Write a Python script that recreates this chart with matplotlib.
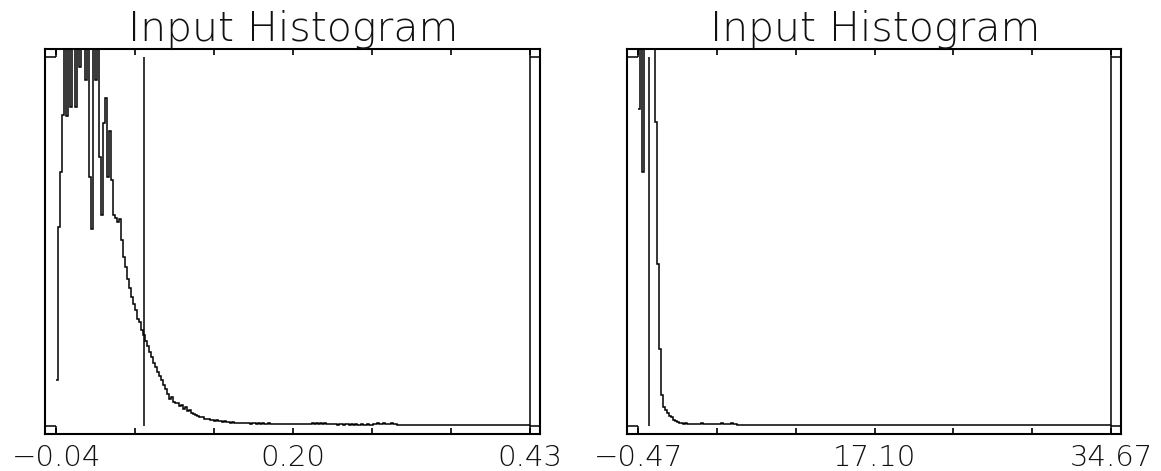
import numpy as np
import matplotlib
matplotlib.use("Agg")
import matplotlib.pyplot as plt
from matplotlib.ticker import FixedLocator, FixedFormatter

# ---------------------------------------------------------------- data
# Left panel: histogram of the input values (normalised bin heights,
# 1.0 = top of the plotted range; taller bins run off the top).
left_range = (-0.04, 0.43)
left_tick_labels = ["\u22120.04", "0.20", "0.43"]
left_marker = 0.047
left_counts = [
    0.125, 0.54, 0.69, 0.845, 1.15, 0.84, 1.2, 0.865, 1.1, 0.865,
    1.25, 0.975, 1.3, 1.2, 0.94, 1.3, 0.674, 0.533, 1.25, 0.94,
    1.2, 0.73, 0.573, 0.823, 0.89, 0.674, 0.80, 0.668, 0.573, 0.565,
    0.554, 0.56, 0.505, 0.457, 0.43, 0.397, 0.375, 0.35, 0.33, 0.315,
    0.29, 0.28, 0.26, 0.245, 0.23, 0.215, 0.20, 0.185, 0.17, 0.16,
    0.145, 0.135, 0.125, 0.11, 0.10, 0.085, 0.072, 0.078, 0.065, 0.060,
    0.062, 0.054, 0.056, 0.045, 0.049, 0.040, 0.043, 0.034, 0.031, 0.028,
    0.025, 0.022, 0.024, 0.019, 0.017, 0.019, 0.014, 0.016, 0.013, 0.014,
    0.011, 0.012, 0.010, 0.011, 0.009, 0.010, 0.008, 0.009, 0.008, 0.007,
    0.008, 0.007, 0.006, 0.008, 0.006, 0.007, 0.005, 0.007, 0.006, 0.005,
    0.006, 0.005, 0.006, 0.004, 0.005, 0.006, 0.004, 0.005, 0.004, 0.005,
    0.004, 0.004, 0.005, 0.003, 0.004, 0.004, 0.003, 0.004, 0.003, 0.004,
    0.003, 0.003, 0.004, 0.003, 0.003, 0.003, 0.003, 0.006, 0.004, 0.006,
    0.005, 0.007, 0.004, 0.006, 0.005, 0.004, 0.003, 0.003, 0.003, 0.002,
    0.003, 0.003, 0.002, 0.003, 0.003, 0.002, 0.003, 0.002, 0.003, 0.002,
    0.002, 0.003, 0.002, 0.002, 0.003, 0.002, 0.002, 0.005, 0.004, 0.006,
    0.004, 0.005, 0.006, 0.004, 0.005, 0.004, 0.006, 0.004, 0.003, 0.002,
    0.002, 0.002, 0.002, 0.002, 0.002, 0.002, 0.002, 0.002, 0.002, 0.002,
    0.002, 0.002, 0.002, 0.002, 0.002, 0.002, 0.002, 0.002, 0.002, 0.002,
    0.002, 0.002, 0.002, 0.002, 0.002, 0.002, 0.002, 0.002, 0.002, 0.002,
    0.002, 0.002, 0.002, 0.002, 0.002, 0.002, 0.002, 0.002, 0.002, 0.002,
    0.002, 0.002, 0.002, 0.002, 0.002, 0.002, 0.002, 0.002, 0.002, 0.002,
    0.002, 0.002, 0.002, 0.002, 0.002, 0.002, 0.002, 0.002, 0.002, 0.002,
    0.002, 0.002, 0.002, 0.002, 0.002,
]

# Right panel
right_range = (-0.47, 34.67)
right_tick_labels = ["\u22120.47", "17.10", "34.67"]
right_marker = 0.345
right_counts = [
    0.86, 1.6, 0.69, 5.0, 8.0, 7.0, 5.0, 3.0, 0.826, 0.44,
    0.207, 0.084, 0.049, 0.043, 0.035, 0.027, 0.022, 0.016, 0.013, 0.010,
    0.008, 0.007, 0.005, 0.006, 0.004, 0.005, 0.004, 0.003, 0.003, 0.004,
    0.003, 0.006, 0.003, 0.003, 0.003, 0.004, 0.003, 0.003, 0.003, 0.003,
    0.004, 0.006, 0.003, 0.003, 0.003, 0.004, 0.006, 0.003, 0.003, 0.002,
    0.002, 0.002, 0.002, 0.002, 0.002, 0.002, 0.002, 0.002, 0.002, 0.002,
    0.002, 0.002, 0.002, 0.002, 0.002, 0.002, 0.002, 0.002, 0.002, 0.002,
    0.002, 0.002, 0.002, 0.002, 0.002, 0.002, 0.002, 0.002, 0.002, 0.002,
    0.002, 0.002, 0.002, 0.002, 0.002, 0.002, 0.002, 0.002, 0.002, 0.002,
    0.002, 0.002, 0.002, 0.002, 0.002, 0.002, 0.002, 0.002, 0.002, 0.002,
    0.002, 0.002, 0.002, 0.002, 0.002, 0.002, 0.002, 0.002, 0.002, 0.002,
    0.002, 0.002, 0.002, 0.002, 0.002, 0.002, 0.002, 0.002, 0.002, 0.002,
    0.002, 0.002, 0.002, 0.002, 0.002, 0.002, 0.002, 0.002, 0.002, 0.002,
    0.002, 0.002, 0.002, 0.002, 0.002, 0.002, 0.002, 0.002, 0.002, 0.002,
    0.002, 0.002, 0.002, 0.002, 0.002, 0.002, 0.002, 0.002, 0.002, 0.002,
    0.002, 0.002, 0.002, 0.002, 0.002, 0.002, 0.002, 0.002, 0.002, 0.002,
    0.002, 0.002, 0.002, 0.002, 0.002, 0.002, 0.002, 0.002, 0.002, 0.002,
    0.002, 0.002, 0.002, 0.002, 0.002, 0.002, 0.002, 0.002, 0.002, 0.002,
    0.002, 0.002, 0.002, 0.002, 0.002, 0.002, 0.002, 0.002, 0.002, 0.002,
    0.002, 0.002, 0.002, 0.002, 0.002, 0.002, 0.002, 0.002, 0.002, 0.002,
    0.002, 0.002, 0.002, 0.002, 0.002, 0.002, 0.002, 0.002, 0.002, 0.002,
    0.002, 0.002, 0.002, 0.002, 0.002, 0.002, 0.002, 0.002, 0.002, 0.002,
    0.002, 0.002, 0.002, 0.002, 0.002, 0.002, 0.002, 0.002, 0.002, 0.002,
    0.002, 0.002, 0.002, 0.002,
]

title_text = "Input Histogram"

# ---------------------------------------------------------------- style
INK = "black"
TEXT_INK = "#111111"
LW_LINE = 1.1
LW_FRAME = 1.5
PAD_L, PAD_R = 0.024, 0.021   # frame margin beyond the data range (x)
PAD_Y = 0.023                 # frame margin beyond the data range (y)
Y_TOP = 1.0

plt.rcParams["font.family"] = ["DejaVu Sans"]

fig = plt.figure(figsize=(11.61, 4.71), dpi=100)
ax_l = fig.add_axes([45 / 1161, 1 - 434 / 471, 495 / 1161, 385 / 471])
ax_r = fig.add_axes([627 / 1161, 1 - 434 / 471, 494 / 1161, 385 / 471])


def draw_panel(ax, xrange_, counts, marker, tick_labels):
    x0, x1 = xrange_
    span = x1 - x0
    lo, hi = x0 - PAD_L * span, x1 + PAD_R * span
    ylo, yhi = -PAD_Y * Y_TOP, Y_TOP * (1 + PAD_Y)
    ax.set_xlim(lo, hi)
    ax.set_ylim(ylo, yhi)

    edges = np.linspace(x0, x1, len(counts) + 1)
    ax.stairs(counts, edges, baseline=None, color=INK, lw=LW_LINE)

    # threshold marker across the plotted range
    ax.vlines(marker, 0, Y_TOP, color=INK, lw=LW_LINE)

    # data-range corner marks and closing line at the upper limit
    kw = dict(color=INK, lw=LW_LINE)
    ax.hlines([0, Y_TOP], lo, x0, **kw)
    ax.hlines([0, Y_TOP], x1, hi, **kw)
    ax.vlines(x0, ylo, 0, **kw)
    ax.vlines(x0, Y_TOP, yhi, **kw)
    ax.vlines(x1, ylo, yhi, **kw)

    for s in ax.spines.values():
        s.set_linewidth(LW_FRAME)
        s.set_color(INK)

    major = [x0, (x0 + x1) / 2, x1]
    minor = [x0 + span * k / 6 for k in (1, 2, 4, 5)]
    ax.xaxis.set_major_locator(FixedLocator(major))
    ax.xaxis.set_major_formatter(FixedFormatter(tick_labels))
    ax.xaxis.set_minor_locator(FixedLocator(minor))
    ax.tick_params(axis="x", which="both", direction="in", top=True,
                   bottom=True, length=4, width=1.2, color=INK)
    ax.tick_params(axis="x", which="major", labelsize=21, pad=7,
                   labelcolor=TEXT_INK)
    for lab in ax.get_xticklabels():
        lab.set_fontweight("light")
    ax.set_yticks([])

    ax.text((x0 + x1) / 2, 1.0, title_text, transform=ax.get_xaxis_transform(),
            ha="center", va="bottom", fontsize=29.5, fontweight="light",
            color=TEXT_INK)


draw_panel(ax_l, left_range, left_counts, left_marker, left_tick_labels)
draw_panel(ax_r, right_range, right_counts, right_marker, right_tick_labels)

fig.savefig("out.png", dpi=100, facecolor="white")
